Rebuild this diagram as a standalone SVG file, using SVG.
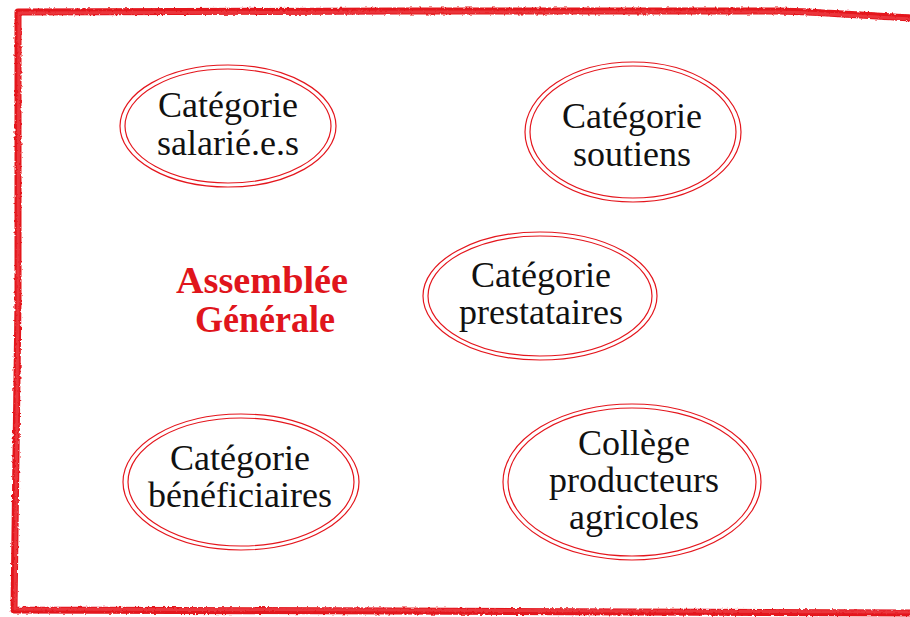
<svg xmlns="http://www.w3.org/2000/svg" width="910" height="617" viewBox="0 0 910 617">
  <defs>
    <filter id="rough" x="-5%" y="-5%" width="110%" height="110%">
      <feTurbulence type="fractalNoise" baseFrequency="0.35" numOctaves="2" seed="3" result="noise"/>
      <feDisplacementMap in="SourceGraphic" in2="noise" scale="3" xChannelSelector="R" yChannelSelector="G"/>
    </filter>
    <style>
      .frame { fill: none; stroke: #e4161d; stroke-width: 7; stroke-linecap: round; stroke-linejoin: round; }
      .frame2 { fill: none; stroke: #f04a50; stroke-width: 3; stroke-linecap: round; stroke-linejoin: round; opacity: 0.6; }
      .ring { fill: none; stroke: #e4161d; stroke-width: 1.2; }
      .lbl { font-family: "Liberation Serif", "Times New Roman", serif; font-size: 36px; fill: #111; text-anchor: middle; }
      .title { font-family: "Liberation Serif", "Times New Roman", serif; font-size: 37px; font-weight: bold; fill: #e0151c; text-anchor: middle; }
    </style>
  </defs>
  <rect width="910" height="617" fill="#ffffff"/>

  <g id="frame" filter="url(#rough)">
    <path class="frame" d="M 912 18 C 870 16 820 12 780 11 L 400 11 L 18 12 L 18 300 L 14 610 L 400 611 L 912 613"/>
    <path class="frame2" d="M 912 19 C 870 17 820 13 780 12 L 400 12 L 19 13 L 18 300 L 15 609 L 400 610 L 912 612"/>
  </g>

  <g id="title">
    <text class="title" x="262" y="293" textLength="172" lengthAdjust="spacingAndGlyphs">Assemblée</text>
    <text class="title" x="265" y="332" textLength="140" lengthAdjust="spacingAndGlyphs">Générale</text>
  </g>

  <g id="node-salaries">
    <ellipse class="ring" cx="228" cy="126" rx="108" ry="61"/>
    <ellipse class="ring" cx="228" cy="126" rx="103" ry="57"/>
    <text class="lbl" x="228" y="117">Catégorie</text>
    <text class="lbl" x="228" y="155">salarié.e.s</text>
  </g>

  <g id="node-soutiens">
    <ellipse class="ring" cx="633" cy="132" rx="108" ry="70"/>
    <ellipse class="ring" cx="633" cy="132" rx="103" ry="66"/>
    <text class="lbl" x="632" y="128">Catégorie</text>
    <text class="lbl" x="632" y="166">soutiens</text>
  </g>

  <g id="node-prestataires">
    <ellipse class="ring" cx="540" cy="296" rx="117" ry="64"/>
    <ellipse class="ring" cx="540" cy="296" rx="112" ry="60"/>
    <text class="lbl" x="541" y="287">Catégorie</text>
    <text class="lbl" x="541" y="324">prestataires</text>
  </g>

  <g id="node-beneficiaires">
    <ellipse class="ring" cx="241" cy="482" rx="118" ry="68"/>
    <ellipse class="ring" cx="241" cy="482" rx="113" ry="64"/>
    <text class="lbl" x="240" y="470">Catégorie</text>
    <text class="lbl" x="240" y="507">bénéficiaires</text>
  </g>

  <g id="node-producteurs">
    <ellipse class="ring" cx="632" cy="482" rx="129" ry="78"/>
    <ellipse class="ring" cx="632" cy="482" rx="124" ry="74"/>
    <text class="lbl" x="634" y="455">Collège</text>
    <text class="lbl" x="634" y="492">producteurs</text>
    <text class="lbl" x="634" y="529">agricoles</text>
  </g>

  <g id="connectors"></g>
</svg>
